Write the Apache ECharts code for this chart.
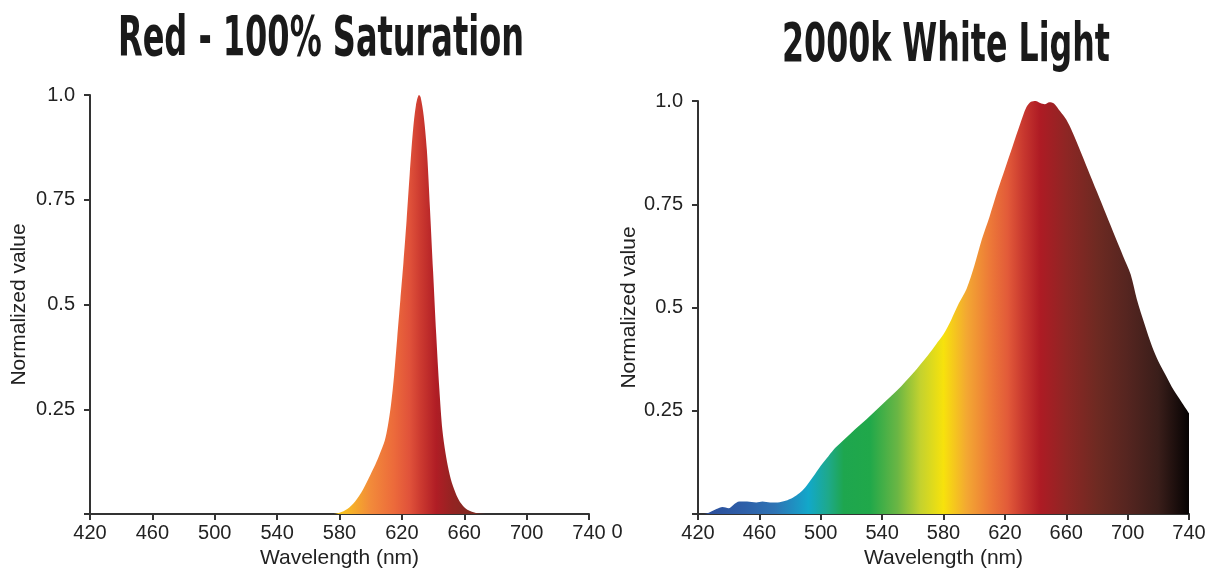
<!DOCTYPE html>
<html>
<head>
<meta charset="utf-8">
<script src="https://cdn.jsdelivr.net/npm/echarts@6/dist/echarts.min.js"></script>
<style>
html,body{margin:0;padding:0;background:#fff;overflow:hidden;}
#chart{width:1212px;height:569px;}
</style>
</head>
<body>
<div id="chart"></div>
<script>
// ---- data ----
const titleLeft = "Red - 100% Saturation";
const titleRight = "2000k White Light";
const xTicks = [420, 460, 500, 540, 580, 620, 660, 700, 740];
const yTicks = [0, 0.25, 0.5, 0.75, 1.0];

const redWavelengths = [420, 560, 575, 580, 585, 590, 595, 600, 603, 606, 609, 611, 613, 615, 617, 619, 621, 623, 625, 627, 629, 631, 632, 634, 636, 638, 640, 642, 644, 646, 648, 650, 652, 655, 658, 662, 668, 680, 740];
const redValues      = [0,   0,   0,   0.003, 0.012, 0.03, 0.058, 0.095, 0.118, 0.145, 0.175, 0.21, 0.26, 0.33, 0.42, 0.51, 0.60, 0.70, 0.81, 0.91, 0.975, 1.0, 0.995, 0.95, 0.87, 0.73, 0.58, 0.43, 0.30, 0.20, 0.145, 0.105, 0.075, 0.045, 0.025, 0.01, 0.002, 0, 0];

const whiteWavelengths = [420, 424, 428, 432, 436, 440, 443, 447, 452, 458, 462, 467, 472, 477, 482, 486, 490, 495, 500, 505, 510, 520, 530, 540, 550, 560, 570, 575, 580, 585, 590, 595, 600, 605, 610, 615, 620, 625, 630, 634, 637, 640, 643, 646, 649, 652, 656, 660, 664, 668, 674, 680, 686, 692, 697, 702, 706, 711, 716, 720, 725, 730, 735, 740];
const whiteValues      = [0, 0, 0.005, 0.012, 0.017, 0.014, 0.022, 0.03, 0.03, 0.028, 0.03, 0.028, 0.028, 0.032, 0.04, 0.05, 0.065, 0.09, 0.117, 0.14, 0.162, 0.197, 0.23, 0.265, 0.30, 0.34, 0.385, 0.41, 0.435, 0.47, 0.51, 0.545, 0.60, 0.665, 0.72, 0.78, 0.835, 0.89, 0.945, 0.985, 0.998, 1.0, 0.995, 0.992, 0.997, 0.994, 0.975, 0.955, 0.925, 0.89, 0.835, 0.78, 0.725, 0.67, 0.625, 0.58, 0.52, 0.46, 0.405, 0.37, 0.335, 0.30, 0.272, 0.244];

// gradient colour stops by wavelength
const redStopsNm    = [420, 580, 590, 600, 615, 625, 632, 642, 652, 665, 740];
const redStopsColor = ['#f8c61c', '#f8c61c', '#f5a92c', '#f28a3a', '#ec6a3b', '#e0523a', '#cc3a30', '#b01d25', '#952322', '#7e2a22', '#7e2a22'];
const whiteStopsNm    = [420, 450, 470, 485, 492, 505, 515, 532, 550, 565, 580, 595, 610, 622, 632, 643, 660, 680, 700, 720, 740];
const whiteStopsColor = ['#2b4a98', '#2e5fa8', '#2e73b4', '#1c96c4', '#12a8c9', '#1ea98a', '#1ea64e', '#20a84a', '#6ab644', '#c4d22e', '#f7e20c', '#f3a832', '#ed7a38', '#e25a39', '#c8382f', '#ae1b24', '#8e2624', '#6e2a22', '#552520', '#3a1e1a', '#060303'];

// ---- build ----
function pairs(xs, ys) { return xs.map((x, i) => [x, ys[i]]); }
function gradient(nms, cols) {
  const lo = xTicks[0], hi = xTicks[xTicks.length - 1];
  return new echarts.graphic.LinearGradient(0, 0, 1, 0,
    nms.map((n, i) => ({ offset: (n - lo) / (hi - lo), color: cols[i] })));
}
const titleFont = "'Liberation Sans Narrow', 'DejaVu Sans Condensed', 'Liberation Sans', sans-serif";
function scaleFor(text, size, target) {
  const c = document.createElement('canvas').getContext('2d');
  c.font = 'bold ' + size + 'px ' + titleFont;
  return target / c.measureText(text).width;
}

const labelFont = { fontFamily: "'Liberation Sans', Arial, sans-serif", fontSize: 20, color: '#222' };
const nameFont = { fontFamily: "'Liberation Sans', Arial, sans-serif", fontSize: 21, color: '#222' };
const axisLine = { show: true, lineStyle: { color: '#333', width: 2 } };

function xAxis(gi) {
  return {
    type: 'value', gridIndex: gi, min: 420, max: 740, interval: 40,
    name: 'Wavelength (nm)', nameLocation: 'middle', nameGap: 33,
    nameTextStyle: nameFont,
    axisLine: axisLine,
    axisTick: { show: true, length: 6, lineStyle: { color: '#333', width: 2 } },
    axisLabel: Object.assign({ margin: 9 }, labelFont),
    splitLine: { show: false }
  };
}
function yAxis(gi, gap) {
  return {
    type: 'value', gridIndex: gi, min: 0, max: 1, interval: 0.25,
    name: 'Normalized value', nameLocation: 'middle', nameGap: gap,
    nameTextStyle: nameFont,
    axisLine: axisLine,
    axisTick: { show: true, length: 6, lineStyle: { color: '#333', width: 2 } },
    axisLabel: Object.assign({ margin: 15, formatter: v => v === 0 ? '' : (v === 1 ? '1.0' : String(v)) }, labelFont),
    splitLine: { show: false }
  };
}

const chart = echarts.init(document.getElementById('chart'), null, { renderer: 'canvas', width: 1212, height: 569 });
const sL = scaleFor(titleLeft, 56, 406);
const sR = scaleFor(titleRight, 54, 328);

chart.setOption({
  backgroundColor: '#fff',
  animation: false,
  grid: [
    { left: 90, width: 499, top: 95, height: 419, containLabel: false, outerBoundsMode: 'none' },
    { left: 698, width: 491, top: 101, height: 413, containLabel: false, outerBoundsMode: 'none' }
  ],
  xAxis: [xAxis(0), xAxis(1)],
  yAxis: [yAxis(0, 60), yAxis(1, 58)],
  series: [
    {
      type: 'line', xAxisIndex: 0, yAxisIndex: 0, data: pairs(redWavelengths, redValues),
      smooth: 0.3, symbol: 'none', lineStyle: { width: 0 },
      areaStyle: { opacity: 1, color: gradient(redStopsNm, redStopsColor) }
    },
    {
      type: 'line', xAxisIndex: 1, yAxisIndex: 1, data: pairs(whiteWavelengths, whiteValues),
      smooth: 0.3, symbol: 'none', lineStyle: { width: 0 },
      areaStyle: { opacity: 1, color: gradient(whiteStopsNm, whiteStopsColor) }
    }
  ],
  graphic: [
    { type: 'text', x: 321, y: 40, scaleX: sL, z: 10,
      style: { text: titleLeft, font: 'bold 56px ' + titleFont, fill: '#1a1a1a', textAlign: 'center', textVerticalAlign: 'middle' } },
    { type: 'text', x: 946, y: 47, scaleX: sR, z: 10,
      style: { text: titleRight, font: 'bold 54px ' + titleFont, fill: '#1a1a1a', textAlign: 'center', textVerticalAlign: 'middle' } },
    { type: 'text', x: 617, y: 532, z: 10,
      style: { text: '0', font: "20px 'Liberation Sans', Arial, sans-serif", fill: '#222', textAlign: 'center', textVerticalAlign: 'middle' } }
  ]
});
</script>
</body>
</html>
